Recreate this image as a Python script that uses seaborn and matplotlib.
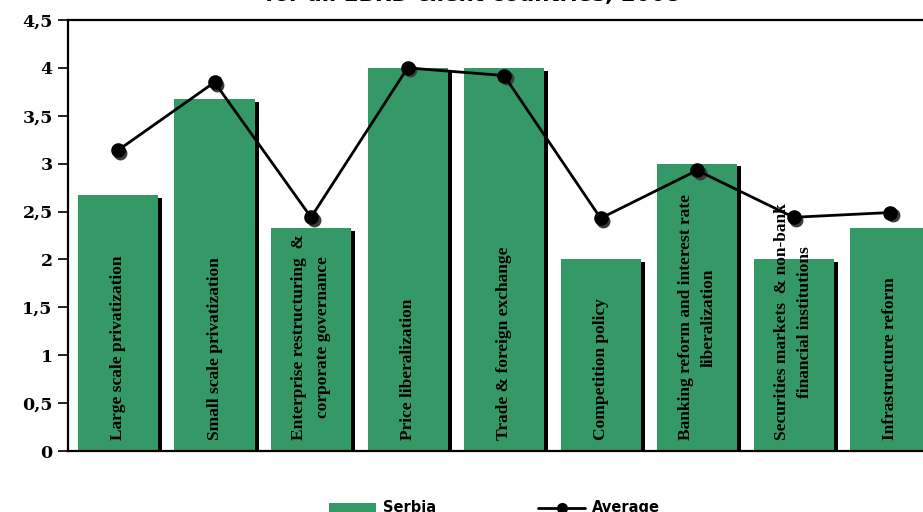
import matplotlib
matplotlib.use("Agg")
import matplotlib.pyplot as plt
import matplotlib.patheffects as pe
from matplotlib.patches import Patch
from matplotlib.lines import Line2D
from matplotlib.transforms import offset_copy
import seaborn as sns
import pandas as pd

# Transition indicator scores
categories = [
    "Large scale privatization",
    "Small scale privatization",
    "Enterprise restructuring  &\ncorporate governance",
    "Price liberalization",
    "Trade & foreign exchange",
    "Competition policy",
    "Banking reform and interest rate\nliberalization",
    "Securities markets  & non-bank\nfinancial institutions",
    "Infrastructure reform",
]
serbia = [2.67, 3.67, 2.33, 4.0, 4.0, 2.0, 3.0, 2.0, 2.33]
average = [3.14, 3.85, 2.44, 4.0, 3.92, 2.43, 2.93, 2.44, 2.49]

ytick_values = [0, 0.5, 1, 1.5, 2, 2.5, 3, 3.5, 4, 4.5]
ytick_labels = ["0", "0,5", "1", "1,5", "2", "2,5", "3", "3,5", "4", "4,5"]

title_text = "for all EBRD client countries, 2008"
legend_labels = ["Serbia", "Average"]

GREEN = "#349966"

df = pd.DataFrame({"indicator": categories, "Serbia": serbia, "Average": average})

sns.set_theme(style="white")
plt.rcParams["text.color"] = "black"
fig = plt.figure(figsize=(9.23, 5.12), dpi=100)
ax = fig.add_axes([68 / 923, 61 / 512, 1 - 68 / 923, (451 - 20) / 512])

sns.barplot(data=df, x="indicator", y="Serbia", color=GREEN, width=0.83,
            saturation=1, ax=ax, zorder=2)
for bar in ax.patches:
    bar.set_edgecolor("none")
    bar.set_path_effects([
        pe.SimplePatchShadow(offset=(3, -2), shadow_rgbFace="black", alpha=1.0),
        pe.Normal(),
    ])

# marker shadows, offset slightly right/down
shadow_tr = offset_copy(ax.transData, fig=fig, x=2.5, y=-2.5, units="dots")
ax.plot(range(len(average)), average, "o", color="#3c3c3c", ms=9,
        transform=shadow_tr, zorder=4)

sns.pointplot(data=df, x="indicator", y="Average", color="black", markers="o",
              errorbar=None, ax=ax, markersize=9, linewidth=2, zorder=5)

# labels written vertically inside the bars
for i, lab in enumerate(categories):
    ax.text(i, 0.11, lab, rotation=90, ha="center", va="bottom",
            multialignment="center", linespacing=1.6,
            fontsize=12.5, fontweight="bold", family="Liberation Serif",
            color="black", zorder=3)

ax.set_ylim(0, 4.5)
ax.set_xlim(-0.518, 8.34)
ax.set_yticks(ytick_values)
ax.set_yticklabels(ytick_labels, fontsize=12.5, fontweight="bold",
                   family="DejaVu Serif")
ax.set_xticks([])
ax.set_xlabel("")
ax.set_ylabel("")
ax.tick_params(axis="y", direction="out", length=7, width=1.2, color="black",
               left=True, pad=4, labelcolor="black")

for side in ["top", "left", "bottom"]:
    ax.spines[side].set_visible(True)
    ax.spines[side].set_color("black")
    ax.spines[side].set_linewidth(1.6)
ax.spines["right"].set_visible(False)

# lower line of the chart title, running off the top edge
fig.text(0.5125, 1 - 1.0 / 512, title_text, ha="center", va="baseline",
         fontsize=15.5, fontweight="bold", family="DejaVu Sans", color="black")

handles = [
    Patch(facecolor=GREEN, edgecolor="none"),
    Line2D([], [], color="black", lw=2, marker="o", ms=7),
]
leg = fig.legend(handles, legend_labels, loc="center",
                 bbox_to_anchor=(0.536, 0.008),
                 ncol=2, frameon=False, handlelength=3.2, handleheight=0.6,
                 handletextpad=0.5, columnspacing=7.0,
                 prop={"family": "DejaVu Sans", "weight": "bold", "size": 10.5})
for t in leg.get_texts():
    t.set_color("black")

fig.savefig("out.png", dpi=100)
